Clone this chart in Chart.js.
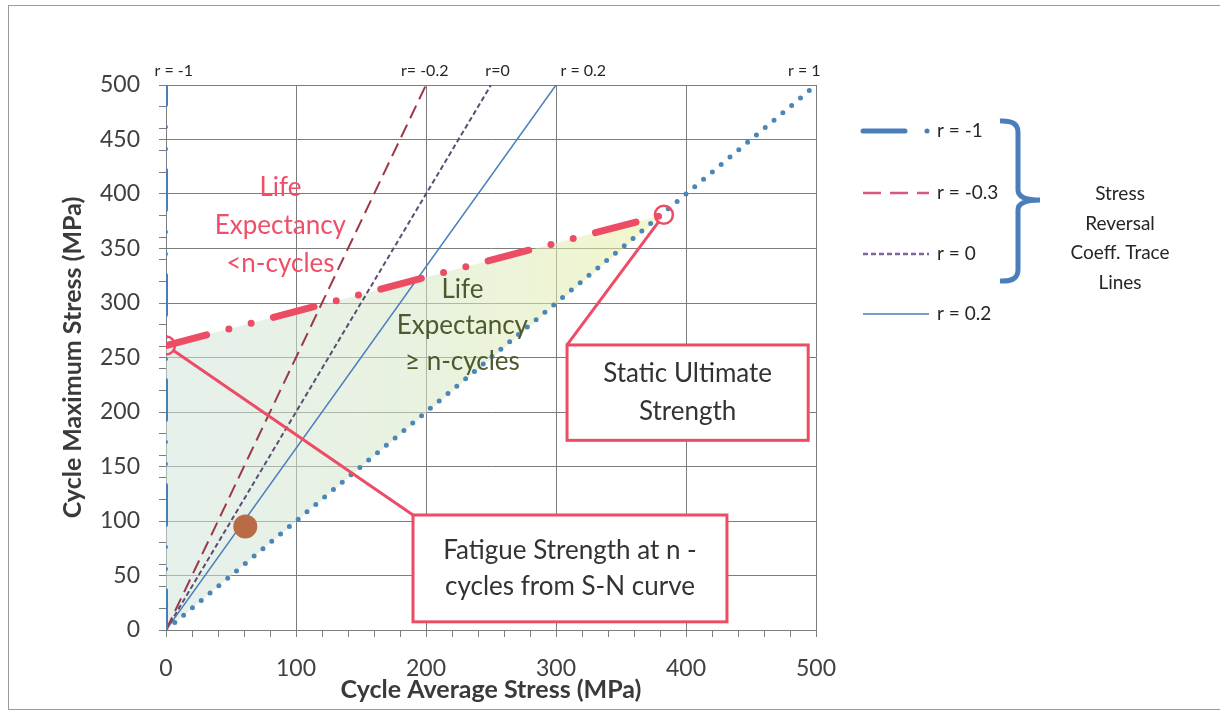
<!DOCTYPE html>
<html lang="en">
<head>
  <meta charset="UTF-8" />
  <title>Stress Reversal Coefficient Trace Lines</title>
  <script src="https://cdn.jsdelivr.net/npm/chart.js"></script>
  <style>
    * { margin: 0; padding: 0; box-sizing: border-box; }
    body { background: #fff; width: 1220px; height: 713px; overflow: hidden; }
  </style>
</head>
<body>
  <canvas id="stressChart" width="1220" height="713"></canvas>
  <script>
    // Trace lines for each stress reversal coefficient (from origin to top edge)
    const traceNames = ['r = -1', 'r = -0.3', 'r = 0', 'r = 0.2', 'r = 1'];
    const traceTopLabels = ['r = -1', 'r= -0.2', 'r=0', 'r = 0.2', 'r = 1'];
    const traceEndX = [0, 200, 250, 300, 500];
    const traceEndY = [500, 500, 500, 500, 500];

    // Fatigue limit line: fatigue strength (r = -1) to static ultimate strength
    const limitX = [0, 383];
    const limitY = [261, 381];

    // Operating point
    const opPointX = [61];
    const opPointY = [95];

    // Axis range and steps
    const axisMax = 500;
    const xLabelStep = 100;
    const yLabelStep = 50;
    const minorStep = 20;

    const FONT = 'Lato, "Open Sans", sans-serif';
    const GRID = '#7c7c7c';
    const RED = '#ec4d65';
    const CLEAR = 'rgba(0,0,0,0)';

    const traceStyles = [
      { color: '#4a7ebb', width: 4, dash: [40, 21, 0, 22, 0, 22], cap: 'round' },
      { color: '#9a3a48', width: 2, dash: [14, 7], cap: 'butt' },
      { color: '#5c4d73', width: 2, dash: [5, 3], cap: 'butt' },
      { color: '#4a7ebb', width: 1.5, dash: [], cap: 'butt' },
      { color: '#4a86b8', width: 5, dash: [0, 11.5], cap: 'round' }
    ];
    const legendStyles = [
      { color: '#4a7ebb', width: 5, dash: [42, 22, 0, 40], cap: 'round' },
      { color: '#d65a7c', width: 2.5, dash: [18, 9], cap: 'butt' },
      { color: '#8064a2', width: 2.5, dash: [5, 3], cap: 'butt' },
      { color: '#4a7ebb', width: 1.5, dash: [], cap: 'butt' }
    ];

    const traceSets = traceNames.map((name, i) => ({
      label: name,
      data: [{ x: 0, y: 0 }, { x: traceEndX[i], y: traceEndY[i] }],
      borderColor: traceStyles[i].color,
      borderWidth: traceStyles[i].width,
      borderDash: traceStyles[i].dash,
      borderCapStyle: traceStyles[i].cap,
      pointRadius: 0,
      fill: false
    }));

    const opPoint = {
      label: 'Fatigue point',
      data: opPointX.map((x, i) => ({ x: x, y: opPointY[i] })),
      showLine: false,
      pointRadius: 12,
      pointBackgroundColor: '#b86b45',
      pointBorderColor: '#b86b45',
      pointBorderWidth: 0
    };

    const limitLine = {
      label: 'Limit',
      data: limitX.map((x, i) => ({ x: x, y: limitY[i] })),
      borderColor: RED,
      borderWidth: 7,
      borderDash: [42, 23, 0, 23, 0, 23],
      borderCapStyle: 'round',
      pointRadius: 9,
      pointBorderWidth: 2.5,
      pointBorderColor: RED,
      pointBackgroundColor: CLEAR,
      fill: false
    };

    // Shaded region: origin -> fatigue strength -> ultimate strength -> origin
    const region = {
      label: 'Region',
      data: [{ x: 0, y: 0 }].concat(limitX.map((x, i) => ({ x: x, y: limitY[i] })), [{ x: 0, y: 0 }]),
      borderWidth: 0,
      borderColor: CLEAR,
      pointRadius: 0,
      fill: 'shape',
      backgroundColor: ctx => {
        const chart = ctx.chart;
        const a = chart.chartArea;
        if (!a) return 'rgba(205,225,205,0.45)';
        const g = chart.ctx.createLinearGradient(a.left, 0, chart.scales.x.getPixelForValue(limitX[1]), 0);
        g.addColorStop(0, 'rgba(208,228,220,0.55)');
        g.addColorStop(0.55, 'rgba(216,232,196,0.55)');
        g.addColorStop(1, 'rgba(232,240,160,0.55)');
        return g;
      }
    };

    // Annotations, texts, legend and frame
    const decorations = {
      id: 'decorations',
      afterDraw(chart) {
        const ctx = chart.ctx;
        const xs = chart.scales.x, ys = chart.scales.y;
        const px = v => xs.getPixelForValue(v);
        const py = v => ys.getPixelForValue(v);
        ctx.save();

        // outer frame
        ctx.strokeStyle = '#9a9a9a';
        ctx.lineWidth = 1;
        ctx.strokeRect(8.5, 5.5, 1240, 704);

        // labels above the trace lines
        const topLabelX = [6, 199, 255, 321, 491];
        ctx.fillStyle = '#262626';
        ctx.font = '16px ' + FONT;
        ctx.textAlign = 'center';
        ctx.textBaseline = 'middle';
        traceTopLabels.forEach((t, i) => ctx.fillText(t, px(topLabelX[i]), 71));

        // region texts
        ctx.font = '26px ' + FONT;
        ctx.fillStyle = '#ef4f68';
        ['Life', 'Expectancy', '<n-cycles'].forEach((t, i) => ctx.fillText(t, px(88), py(406) + i * 38));
        ctx.fillStyle = '#4e5a2e';
        ['Life', 'Expectancy', '\u2265 n-cycles'].forEach((t, i) => ctx.fillText(t, px(228), py(312) + i * 36));

        // callouts
        const callout = (box, target, lines, lineGap) => {
          const l = px(box[0]), t = py(box[1]), r = px(box[2]), b = py(box[3]);
          const tx = px(target.x), ty = py(target.y);
          const ang = Math.atan2(ty - t, tx - l);
          ctx.strokeStyle = RED;
          ctx.lineWidth = 3;
          ctx.beginPath();
          ctx.moveTo(l, t);
          ctx.lineTo(tx - Math.cos(ang) * 9, ty - Math.sin(ang) * 9);
          ctx.stroke();
          ctx.fillStyle = '#fff';
          ctx.fillRect(l, t, r - l, b - t);
          ctx.strokeRect(l, t, r - l, b - t);
          ctx.fillStyle = '#333';
          ctx.font = '26px ' + FONT;
          const cx = (l + r) / 2;
          const cy = (t + b) / 2 - (lines.length - 1) * lineGap / 2;
          lines.forEach((s, i) => ctx.fillText(s, cx, cy + i * lineGap));
        };
        callout([308.5, 261.5, 494, 174], { x: limitX[1], y: limitY[1] }, ['Static Ultimate', 'Strength'], 38);
        callout([190, 105.5, 431.5, 7.5], { x: limitX[0], y: limitY[0] }, ['Fatigue Strength at n -', 'cycles from S-N curve'], 36);

        // legend
        const legendY = [131, 193, 254, 314];
        ctx.textAlign = 'left';
        legendStyles.forEach((s, i) => {
          ctx.strokeStyle = s.color;
          ctx.lineWidth = s.width;
          ctx.lineCap = s.cap;
          ctx.setLineDash(s.dash);
          ctx.beginPath();
          ctx.moveTo(863, legendY[i]);
          ctx.lineTo(929, legendY[i]);
          ctx.stroke();
          ctx.setLineDash([]);
          ctx.fillStyle = '#262626';
          ctx.font = '19px ' + FONT;
          ctx.fillText(traceNames[i], 937, legendY[i]);
        });

        // brace
        ctx.strokeStyle = '#4a7ebb';
        ctx.lineWidth = 5;
        ctx.lineCap = 'butt';
        ctx.lineJoin = 'round';
        ctx.beginPath();
        ctx.moveTo(1000, 121);
        ctx.quadraticCurveTo(1018, 120, 1018, 132);
        ctx.lineTo(1018, 190);
        ctx.quadraticCurveTo(1018, 200, 1040, 200);
        ctx.moveTo(1040, 200);
        ctx.quadraticCurveTo(1018, 200, 1018, 210);
        ctx.lineTo(1018, 270);
        ctx.quadraticCurveTo(1018, 282, 1000, 281);
        ctx.stroke();

        ctx.fillStyle = '#262626';
        ctx.font = '19px ' + FONT;
        ctx.textAlign = 'center';
        ['Stress', 'Reversal', 'Coeff. Trace', 'Lines'].forEach((t, i) => ctx.fillText(t, 1120, 194 + i * 29.5));

        ctx.restore();
      }
    };

    new Chart(document.getElementById('stressChart'), {
      type: 'line',
      data: { datasets: [opPoint, limitLine].concat(traceSets, [region]) },
      options: {
        responsive: false,
        animation: false,
        layout: { padding: { top: 85, right: 404, bottom: 0, left: 0 } },
        elements: { line: { tension: 0 } },
        plugins: {
          legend: { display: false },
          tooltip: { enabled: false },
          filler: { propagate: false }
        },
        scales: {
          x: {
            type: 'linear',
            min: 0,
            max: axisMax,
            ticks: {
              stepSize: minorStep,
              autoSkip: false,
              maxRotation: 0,
              padding: 18,
              color: '#404040',
              font: { family: FONT, size: 23 },
              callback: v => (v % xLabelStep === 0 ? v : '')
            },
            grid: {
              color: c => (c.tick && c.tick.value % xLabelStep === 0 ? GRID : CLEAR),
              tickColor: GRID,
              tickLength: 7
            },
            border: { color: GRID },
            title: {
              display: true,
              text: 'Cycle Average Stress (MPa)',
              color: '#3a3a3a',
              font: { family: FONT, size: 25, weight: 'bold' },
              padding: { top: 0, bottom: 8 }
            },
            afterFit: s => { s.height = 83; }
          },
          y: {
            type: 'linear',
            min: 0,
            max: axisMax,
            ticks: {
              stepSize: 10,
              autoSkip: false,
              padding: 19,
              color: '#404040',
              font: { family: FONT, size: 23 },
              callback: v => (v % yLabelStep === 0 ? v : '')
            },
            grid: {
              color: c => (c.tick && c.tick.value % yLabelStep === 0 ? GRID : CLEAR),
              tickColor: c => (c.tick && (c.tick.value % minorStep === 0 || c.tick.value % yLabelStep === 0) ? GRID : CLEAR),
              tickLength: 7
            },
            border: { color: GRID },
            title: {
              display: true,
              text: 'Cycle Maximum Stress (MPa)',
              color: '#3a3a3a',
              font: { family: FONT, size: 25, weight: 'bold' },
              padding: { top: 58, bottom: 0 }
            },
            afterFit: s => { s.width = 166; }
          }
        }
      },
      plugins: [decorations]
    });
  </script>
</body>
</html>
